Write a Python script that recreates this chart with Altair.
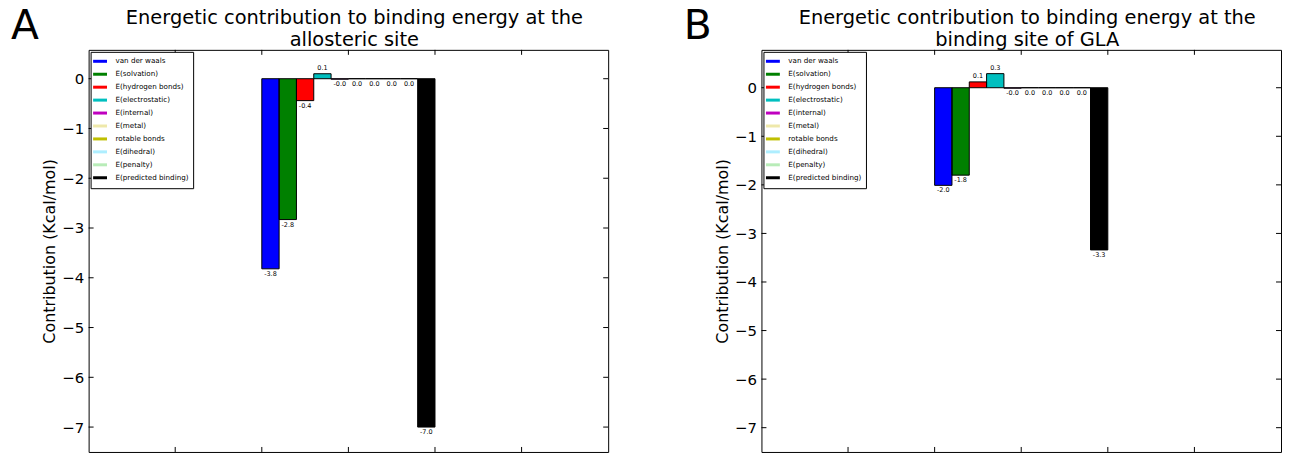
import altair as alt
import pandas as pd

categories = ["van der waals", "E(solvation)", "E(hydrogen bonds)", "E(electrostatic)",
              "E(internal)", "E(metal)", "rotable bonds", "E(dihedral)", "E(penalty)",
              "E(predicted binding)"]
colors = ["#0000ff", "#008000", "#ff0000", "#00bfbf", "#bf00bf",
          "#eee8aa", "#bfbf00", "#aeeeff", "#b8ecb8", "#000000"]
values_a = [-3.82, -2.83, -0.44, 0.1, -0.01, 0.0, 0.0, 0.0, 0.0, -7.0]
values_b = [-2.01, -1.80, 0.12, 0.29, -0.01, 0.0, 0.0, 0.0, 0.0, -3.34]
title_a = ["Energetic contribution to binding energy at the", "allosteric site"]
title_b = ["Energetic contribution to binding energy at the", "binding site of GLA"]
y_ticks = [-7, -6, -5, -4, -3, -2, -1, 0]
x_ticks = [1, 2, 3, 4, 5]
x_domain = [0, 6]
bar_start = 2.0
bar_width = 0.2

W = 522
H = 404
FONT = "DejaVu Sans"

LEGEND = alt.Legend(title=None, orient="none", legendX=2, legendY=2,
                    symbolType="M-1.92,0L1.92,0", symbolSize=53, symbolStrokeWidth=3,
                    labelFontSize=7.2, labelFont=FONT, labelOffset=10, rowPadding=0,
                    padding=4, strokeColor="black", fillColor="white", labelLimit=300,
                    labelColor="black", cornerRadius=0)


def panel(values, letter, title, ydomain):
    df = pd.DataFrame({"category": categories, "value": values})
    df["x0"] = [bar_start + bar_width * i for i in range(len(categories))]
    df["x1"] = df["x0"] + bar_width
    df["xc"] = df["x0"] + bar_width / 2
    df["label"] = [f"{v:.1f}" for v in values]
    df["zero"] = 0.0

    xs = alt.Scale(domain=x_domain, nice=False, zero=False)
    ys = alt.Scale(domain=ydomain, nice=False, zero=False)
    cs = alt.Scale(domain=categories, range=colors)
    base = alt.Chart(df)

    bars = base.mark_bar(opacity=1).encode(
        x=alt.X("x0:Q", scale=xs, axis=None),
        x2="x1",
        y=alt.Y("zero:Q", scale=ys,
                axis=alt.Axis(values=y_ticks, ticks=False, domain=False, grid=False,
                              labelFontSize=15, labelPadding=5, labelFont=FONT,
                              labelColor="black",
                              title="Contribution (Kcal/mol)", titleFontSize=16,
                              titleFont=FONT, titleFontWeight="normal", titlePadding=4,
                              titleColor="black")),
        y2="value",
        color=alt.Color("category:N", scale=cs, legend=LEGEND),
    )
    outline = base.mark_bar(filled=False, color="black", strokeWidth=1).encode(
        x=alt.X("x0:Q", scale=xs), x2="x1",
        y=alt.Y("zero:Q", scale=ys), y2="value",
    )
    # one point per category: draws nothing, gives the legend its line symbols
    legend_layer = base.mark_line(strokeWidth=3).encode(
        x=alt.X("x0:Q", scale=xs),
        y=alt.Y("zero:Q", scale=ys),
        color=alt.Color("category:N", scale=cs, legend=LEGEND),
    )
    neg = base.transform_filter("datum.value <= 0").mark_text(
        baseline="top", dy=2, fontSize=6.5, font=FONT, color="black").encode(
        x=alt.X("xc:Q", scale=xs), y=alt.Y("value:Q", scale=ys), text="label:N")
    pos = base.transform_filter("datum.value > 0").mark_text(
        baseline="bottom", dy=-3, fontSize=6.5, font=FONT, color="black").encode(
        x=alt.X("xc:Q", scale=xs), y=alt.Y("value:Q", scale=ys), text="label:N")

    ydf = pd.DataFrame({"v": y_ticks})
    xdf = pd.DataFrame({"v": x_ticks})
    lt = alt.Chart(ydf).mark_rule(color="black", strokeWidth=1).encode(
        y=alt.Y("v:Q", scale=ys), x=alt.value(0), x2=alt.value(5))
    rt = alt.Chart(ydf).mark_rule(color="black", strokeWidth=1).encode(
        y=alt.Y("v:Q", scale=ys), x=alt.value(W - 5), x2=alt.value(W))
    tt = alt.Chart(xdf).mark_rule(color="black", strokeWidth=1).encode(
        x=alt.X("v:Q", scale=xs), y=alt.value(0), y2=alt.value(5))
    bt = alt.Chart(xdf).mark_rule(color="black", strokeWidth=1).encode(
        x=alt.X("v:Q", scale=xs), y=alt.value(H - 5), y2=alt.value(H))

    tdf = pd.DataFrame({"t": [letter]})
    let = alt.Chart(tdf).mark_text(
        fontSize=41, font=FONT, align="left", baseline="alphabetic", color="black").encode(
        x=alt.value(-78), y=alt.value(-11), text="t:N")
    t1 = alt.Chart(pd.DataFrame({"t": [title[0]]})).mark_text(
        fontSize=19.5, font=FONT, align="center", baseline="alphabetic", color="black").encode(
        x=alt.value(W / 2 + 6), y=alt.value(-26), text="t:N")
    t2 = alt.Chart(pd.DataFrame({"t": [title[1]]})).mark_text(
        fontSize=19.5, font=FONT, align="center", baseline="alphabetic", color="black").encode(
        x=alt.value(W / 2 + 6), y=alt.value(-4), text="t:N")

    return alt.layer(bars, outline, legend_layer, neg, pos, lt, rt, tt, bt,
                     let, t1, t2).properties(width=W, height=H)


chart = alt.hconcat(
    panel(values_a, "A", title_a, [-7.5, 0.58]),
    panel(values_b, "B", title_b, [-7.5, 0.78]),
    spacing=74,
).resolve_scale(
    color="independent"
).resolve_legend(
    color="independent"
).properties(
    padding={"left": 2, "top": -4, "right": 0, "bottom": 0}
).configure(font=FONT).configure_view(stroke="black", strokeWidth=1)

chart.save("out.html", embed_options={"renderer": "svg", "actions": False})
